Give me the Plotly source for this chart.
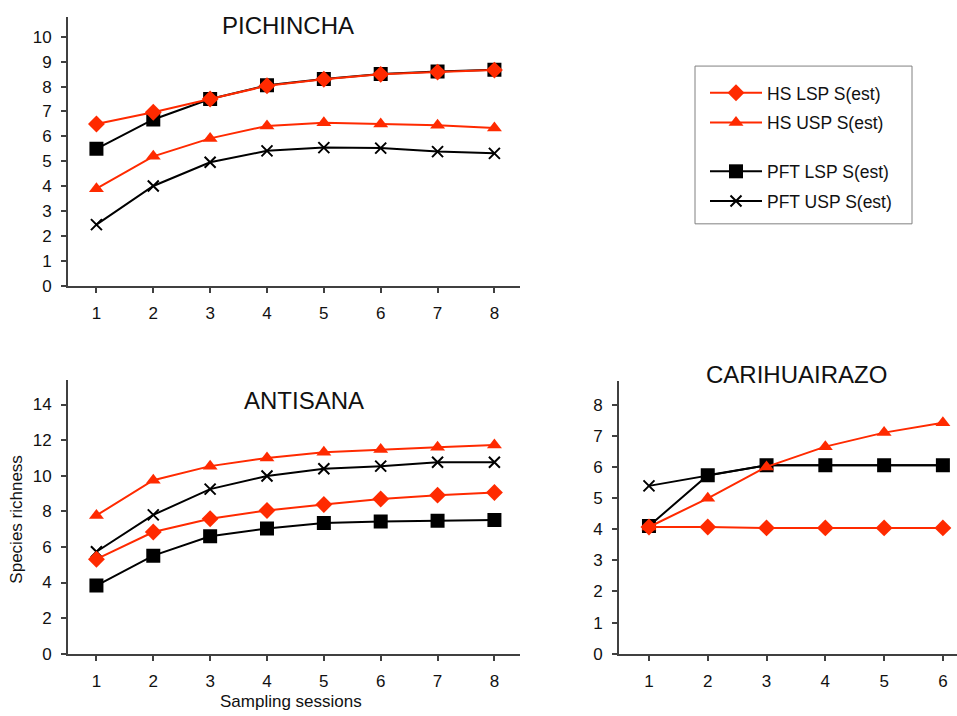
import plotly.graph_objects as go

sessions8 = [1, 2, 3, 4, 5, 6, 7, 8]
sessions6 = [1, 2, 3, 4, 5, 6]

pich_hs_lsp = [6.5, 6.97, 7.5, 8.03, 8.29, 8.49, 8.58, 8.66]
pich_hs_usp = [3.9, 5.2, 5.92, 6.42, 6.55, 6.5, 6.45, 6.34]
pich_pft_lsp = [5.5, 6.68, 7.5, 8.05, 8.3, 8.5, 8.6, 8.67]
pich_pft_usp = [2.46, 4.01, 4.96, 5.42, 5.55, 5.53, 5.39, 5.32]

anti_hs_lsp = [5.31, 6.84, 7.58, 8.05, 8.38, 8.69, 8.91, 9.06]
anti_hs_usp = [7.77, 9.75, 10.54, 11.0, 11.32, 11.47, 11.6, 11.72]
anti_pft_lsp = [3.83, 5.51, 6.6, 7.03, 7.34, 7.43, 7.47, 7.51]
anti_pft_usp = [5.73, 7.8, 9.25, 9.99, 10.39, 10.54, 10.76, 10.76]

cari_hs_lsp = [4.07, 4.07, 4.04, 4.04, 4.04, 4.04]
cari_hs_usp = [4.07, 4.99, 6.0, 6.65, 7.1, 7.42]
cari_pft_lsp = [4.1, 5.73, 6.05, 6.05, 6.05, 6.05]
cari_pft_usp = [5.39, 5.73, 6.05, 6.05, 6.05, 6.05]

series_names = ["HS LSP S(est)", "HS USP S(est)", "PFT LSP S(est)", "PFT USP S(est)"]

RED = "#ff2a00"
BLK = "#000000"
FONT = "Liberation Sans, Arial, sans-serif"

styles = {
    "HS LSP S(est)": dict(color=RED, marker=dict(symbol="diamond", size=13, color=RED), rank=1),
    "HS USP S(est)": dict(color=RED, marker=dict(symbol="triangle-up", size=13, color=RED), rank=2),
    "PFT LSP S(est)": dict(color=BLK, marker=dict(symbol="square", size=14, color=BLK), rank=3),
    "PFT USP S(est)": dict(color=BLK, marker=dict(symbol="x-thin-open", size=11, color=BLK,
                                                   line=dict(color=BLK, width=2)), rank=4),
}

panels = [
    ("x", "y", sessions8, {"HS LSP S(est)": pich_hs_lsp, "HS USP S(est)": pich_hs_usp,
                           "PFT LSP S(est)": pich_pft_lsp, "PFT USP S(est)": pich_pft_usp}, True),
    ("x2", "y2", sessions8, {"HS LSP S(est)": anti_hs_lsp, "HS USP S(est)": anti_hs_usp,
                             "PFT LSP S(est)": anti_pft_lsp, "PFT USP S(est)": anti_pft_usp}, False),
    ("x3", "y3", sessions6, {"HS LSP S(est)": cari_hs_lsp, "HS USP S(est)": cari_hs_usp,
                             "PFT LSP S(est)": cari_pft_lsp, "PFT USP S(est)": cari_pft_usp}, False),
]

draw_order = ["PFT LSP S(est)", "PFT USP S(est)", "HS USP S(est)", "HS LSP S(est)"]

fig = go.Figure()
for xa, ya, xs, data, show in panels:
    for name in draw_order:
        st = styles[name]
        kw = {}
        if name == "PFT LSP S(est)":
            kw["legendgrouptitle"] = dict(text=" ", font=dict(size=6))
        fig.add_trace(go.Scatter(
            x=xs, y=data[name], name=name, mode="lines+markers",
            line=dict(color=st["color"], width=2),
            marker=st["marker"], xaxis=xa, yaxis=ya,
            showlegend=show, legendgroup=name, legendrank=st["rank"], **kw))

axis_common = dict(showline=True, linecolor="#404040", linewidth=2, ticks="outside",
                   ticklen=5, tickwidth=1.5, tickcolor="#404040", showgrid=False,
                   zeroline=False, tickfont=dict(size=17, color="#111", family=FONT))

W, H = 957, 716

fig.update_layout(
    width=W, height=H, margin=dict(l=0, r=0, t=0, b=0),
    paper_bgcolor="white", plot_bgcolor="white",
    font=dict(family=FONT, color="#111"),
    xaxis=dict(domain=[68/W, 520/W], range=[0.5, 8.45], tickvals=sessions8, anchor="y",
               ticklabelstandoff=6, **axis_common),
    yaxis=dict(domain=[1-290/H, 1-17/H], range=[0, 10.8], tickvals=list(range(0, 11)),
               anchor="x", ticklabelstandoff=6, **axis_common),
    xaxis2=dict(domain=[68/W, 520/W], range=[0.5, 8.45], tickvals=sessions8, anchor="y2",
                ticklabelstandoff=6, **axis_common),
    yaxis2=dict(domain=[1-663/H, 1-385/H], range=[0, 15.4], tickvals=list(range(0, 15, 2)),
                anchor="x2", ticklabelstandoff=6, **axis_common),
    xaxis3=dict(domain=[619/W, 1.0], range=[0.49, 6.24], tickvals=sessions6, anchor="y3",
                ticklabelstandoff=6, **axis_common),
    yaxis3=dict(domain=[1-663/H, 1-386/H], range=[0, 8.77], tickvals=list(range(0, 9)),
                anchor="x3", ticklabelstandoff=6, **axis_common),
    legend=dict(x=705/W, y=1-76/H, xanchor="left", yanchor="top",
                bgcolor="rgba(0,0,0,0)", borderwidth=0,
                font=dict(size=17.5, family=FONT, color="#111"),
                traceorder="grouped", tracegroupgap=4, itemwidth=52),
    showlegend=True,
)

fig.add_shape(type="rect", xref="paper", yref="paper",
              x0=695/W, x1=912/W, y0=1-227/H, y1=1-67/H,
              line=dict(color="#808080", width=1), fillcolor="white", layer="below")

annotations = [
    dict(text="PICHINCHA", x=288/W, y=1-25.5/H),
    dict(text="ANTISANA", x=304/W, y=1-406/H),
    dict(text="CARIHUAIRAZO", x=796/W, y=1-380/H),
]
for a in annotations:
    fig.add_annotation(xref="paper", yref="paper", x=a["x"], y=a["y"], text=a["text"],
                       showarrow=False, xanchor="center", yanchor="middle",
                       font=dict(size=24, family=FONT, color="#111"))

fig.add_annotation(xref="paper", yref="paper", x=17/W, y=1-527/H, text="Species richness",
                   textangle=-90, showarrow=False, xanchor="center", yanchor="middle",
                   font=dict(size=17, family=FONT, color="#111"))
fig.add_annotation(xref="paper", yref="paper", x=291/W, y=1-700/H, text="Sampling sessions",
                   showarrow=False, xanchor="center", yanchor="top",
                   font=dict(size=17, family=FONT, color="#111"))

fig.write_html("out.html", config={"displayModeBar": False},
               post_script="document.body.style.margin='0';document.body.style.overflow='hidden';")
